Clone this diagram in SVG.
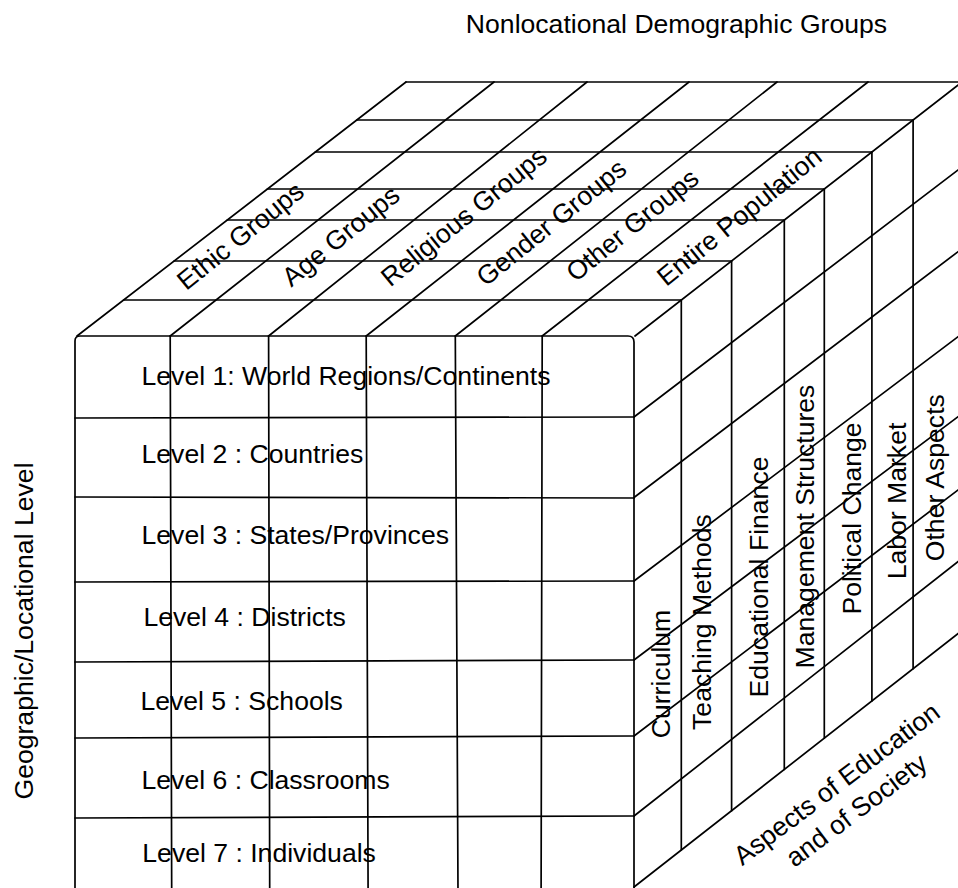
<svg xmlns="http://www.w3.org/2000/svg" width="958" height="888" viewBox="0 0 958 888">
<style>
  .ln{stroke:#000;stroke-width:1.7;fill:none;stroke-linecap:round}
  text{font-family:"Liberation Sans",Arial,Helvetica,sans-serif;font-size:26.6px;fill:#000}
  .mid{text-anchor:middle}
</style>
<rect width="958" height="888" fill="#fff"/>

<g id="top-face" class="ln">
  <path d="M406,82 H964"/>
  <path d="M123.6,300 H681.3 M174.1,261 H731.6 M227.3,220 H784.3 M267.4,189 H824.3 M315.3,152 H871.9 M356.8,120 H913.1"/>
  <path d="M77,336 L406,82 M170.2,336 L494,82 M268.6,336 L587,82 M366.2,336 L689,82 M455.3,336 L777,82 M542.2,336 L868,82 M635,336 L962,82"/>
</g>

<g id="right-face" class="ln">
  <path d="M681.3,300 V850 M731.6,261 V810.7 M784.3,220 V769.5 M824.3,189 V738.2 M871.9,152 V701 M913.1,120 V668.7"/>
  <path d="M634,417 L960,168.5 M634,497.5 L960,250.2 M634,581 L960,335.2 M634,660 L960,415.2 M634,736 L960,488.5 M634,816 L960,560.1 M634,887 L960,632"/>
</g>

<g id="front-face" class="ln">
  <path d="M75,892 V341 Q75,336 80,336 H628 Q634,336 634,342 V892"/>
  <path d="M170.2,336 L171.7,892 M268.6,336 L269.7,892 M366.2,336 L368.1,892 M455.3,336 L458,892 M542.2,336 L541.1,892"/>
  <path d="M75,418 L634,417 M75,497 L634,498 M75,582 L634,581 M75,662 L634,660 M75,738 L634,736 M75,818 L634,816"/>
</g>

<g id="axis-labels">
  <text class="mid" x="676.5" y="33">Nonlocational Demographic Groups</text>
  <text class="mid" transform="translate(33,631) rotate(-90)">Geographic/Locational Level</text>
  <text class="mid" transform="translate(842,791) rotate(-37)"><tspan x="0" y="0">Aspects of Education</tspan><tspan x="0" y="33">and of Society</tspan></text>
</g>

<g id="level-labels">
  <text x="141.5" y="384.5">Level 1: World Regions/Continents</text>
  <text x="141.5" y="463">Level 2 : Countries</text>
  <text x="141.5" y="543.5">Level 3 : States/Provinces</text>
  <text x="143.4" y="626">Level 4 : Districts</text>
  <text x="140.4" y="709.5">Level 5 : Schools</text>
  <text x="141.5" y="789">Level 6 : Classrooms</text>
  <text x="142.3" y="862.4">Level 7 : Individuals</text>
</g>

<g id="group-labels">
  <text class="mid" transform="translate(246,243) rotate(-39)">Ethic Groups</text>
  <text class="mid" transform="translate(346.5,243) rotate(-39)">Age Groups</text>
  <text class="mid" transform="translate(469.5,223.5) rotate(-39)">Religious Groups</text>
  <text class="mid" transform="translate(557,229.5) rotate(-39)">Gender Groups</text>
  <text class="mid" transform="translate(638,232) rotate(-39)">Other Groups</text>
  <text class="mid" transform="translate(745,223.5) rotate(-39)">Entire Population</text>
</g>

<g id="aspect-labels">
  <text class="mid" transform="translate(670,674) rotate(-90)">Curriculum</text>
  <text class="mid" transform="translate(710.5,622) rotate(-90)">Teaching Methods</text>
  <text class="mid" transform="translate(768,577) rotate(-90)">Educational Finance</text>
  <text class="mid" transform="translate(814,526.5) rotate(-90)">Management Structures</text>
  <text class="mid" transform="translate(861,518.5) rotate(-90)">Political Change</text>
  <text class="mid" transform="translate(906,501) rotate(-90)">Labor Market</text>
  <text class="mid" transform="translate(944,477.7) rotate(-90)">Other Aspects</text>
</g>
</svg>
